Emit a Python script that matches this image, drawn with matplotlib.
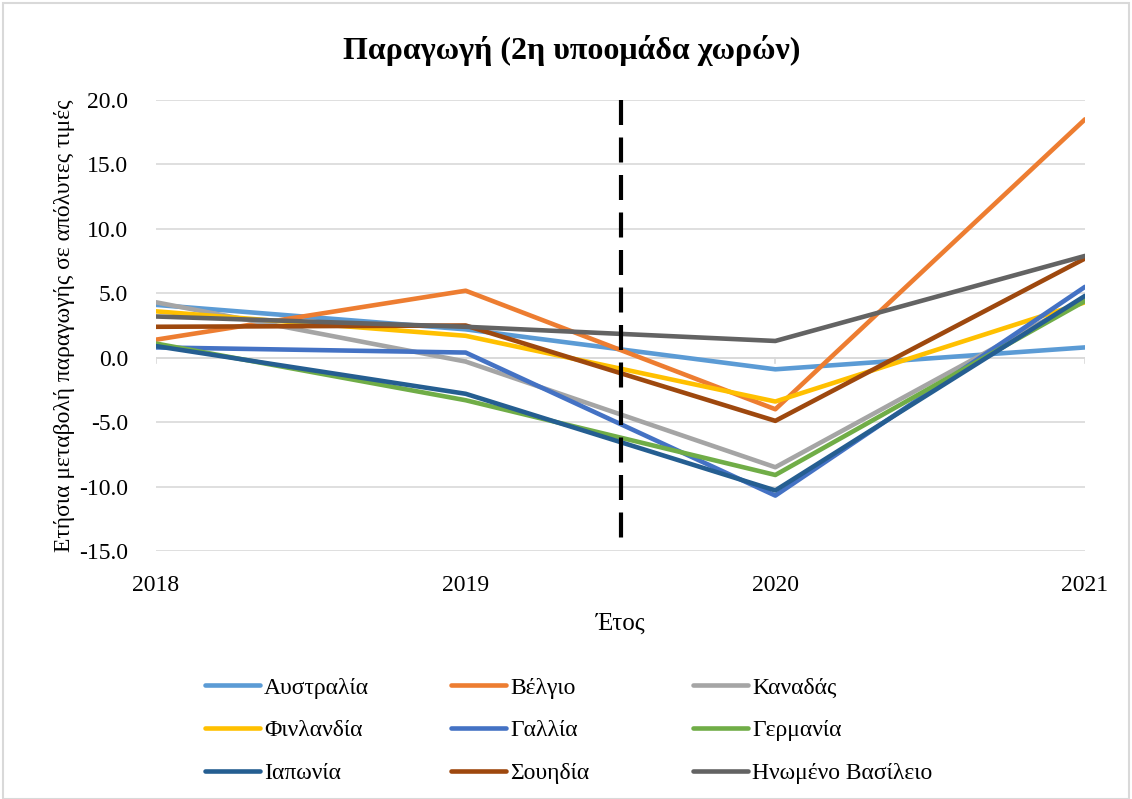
import matplotlib.pyplot as plt
from matplotlib.patches import Rectangle

plt.rcParams['font.family'] = ['Liberation Serif', 'DejaVu Serif']

years = [2018, 2019, 2020, 2021]
countries = ["Αυστραλία", "Βέλγιο", "Καναδάς", "Φινλανδία", "Γαλλία",
             "Γερμανία", "Ιαπωνία", "Σουηδία", "Ηνωμένο Βασίλειο"]
australia = [4.1, 2.2, -0.9, 0.8]
belgium = [1.4, 5.2, -4.0, 18.5]
canada = [4.3, -0.3, -8.5, 4.6]
finland = [3.6, 1.7, -3.4, 4.3]
france = [0.8, 0.4, -10.7, 5.5]
germany = [1.1, -3.3, -9.1, 4.4]
japan = [0.9, -2.8, -10.3, 4.8]
sweden = [2.4, 2.5, -4.9, 7.7]
uk = [3.2, 2.4, 1.3, 7.9]
series = [australia, belgium, canada, finland, france, germany, japan, sweden, uk]
colors = ["#5B9BD5", "#ED7D31", "#A5A5A5", "#FFC000", "#4472C4",
          "#70AD47", "#255E91", "#9E480E", "#636363"]

W, H = 1132, 799
fig = plt.figure(figsize=(W / 100, H / 100), dpi=100)
ax = fig.add_axes([156 / W, 1 - 551 / H, (1085 - 156) / W, (551 - 100) / H])

# outer chart border
fig.patches.append(Rectangle((3 / W, 0.0), (W - 6) / W, (H - 3) / H, transform=fig.transFigure,
                             fill=False, edgecolor="#D9D9D9", linewidth=1.5))

handles = []
for vals, name, c in zip(series, countries, colors):
    ln, = ax.plot(years, vals, color=c, linewidth=3.3, label=name, solid_capstyle="round", zorder=3)
    handles.append(ln)

ax.plot([2019.5, 2019.5], [20, -14.6], color="black", linewidth=3, linestyle=(0, (6, 3)), zorder=4)

ax.set_xlim(2018, 2021)
ax.set_ylim(-15, 20)
ax.set_yticks(range(-15, 21, 5))
ax.set_yticklabels([f"{v:.1f}" for v in range(-15, 21, 5)])
ax.set_xticks(years)
ax.grid(axis="y", color="#D9D9D9", linewidth=1.2, zorder=0)
ax.axhline(0, color="#D9D9D9", linewidth=1.2, zorder=1)
for x in years:
    ax.plot([x, x], [0, -0.4], color="#D9D9D9", linewidth=1.2, zorder=1)
for s in ax.spines.values():
    s.set_visible(False)
ax.tick_params(length=0, labelsize=17)
ax.tick_params(axis="y", pad=20)
ax.tick_params(axis="x", pad=17)

fig.text(572 / W, 1 - 50 / H, "Παραγωγή (2η υποομάδα χωρών)", fontsize=23,
         fontweight="bold", ha="center", va="center")
ax.set_xlabel("Έτος", fontsize=18, labelpad=12)
ax.set_ylabel("Ετήσια μεταβολή παραγωγής σε απόλυτες τιμές", fontsize=17, labelpad=3)

# legend: three fixed-width columns, filled row by row
col_x = [205, 451, 693]
for j in range(3):
    fig.legend(handles=handles[j::3], loc="upper left",
               bbox_to_anchor=(col_x[j] / W, 1 - 677 / H), frameon=False,
               fontsize=17, handlelength=2.35, handletextpad=0.15,
               labelspacing=0.9, borderpad=0, borderaxespad=0)

fig.savefig("out.png", dpi=100)
